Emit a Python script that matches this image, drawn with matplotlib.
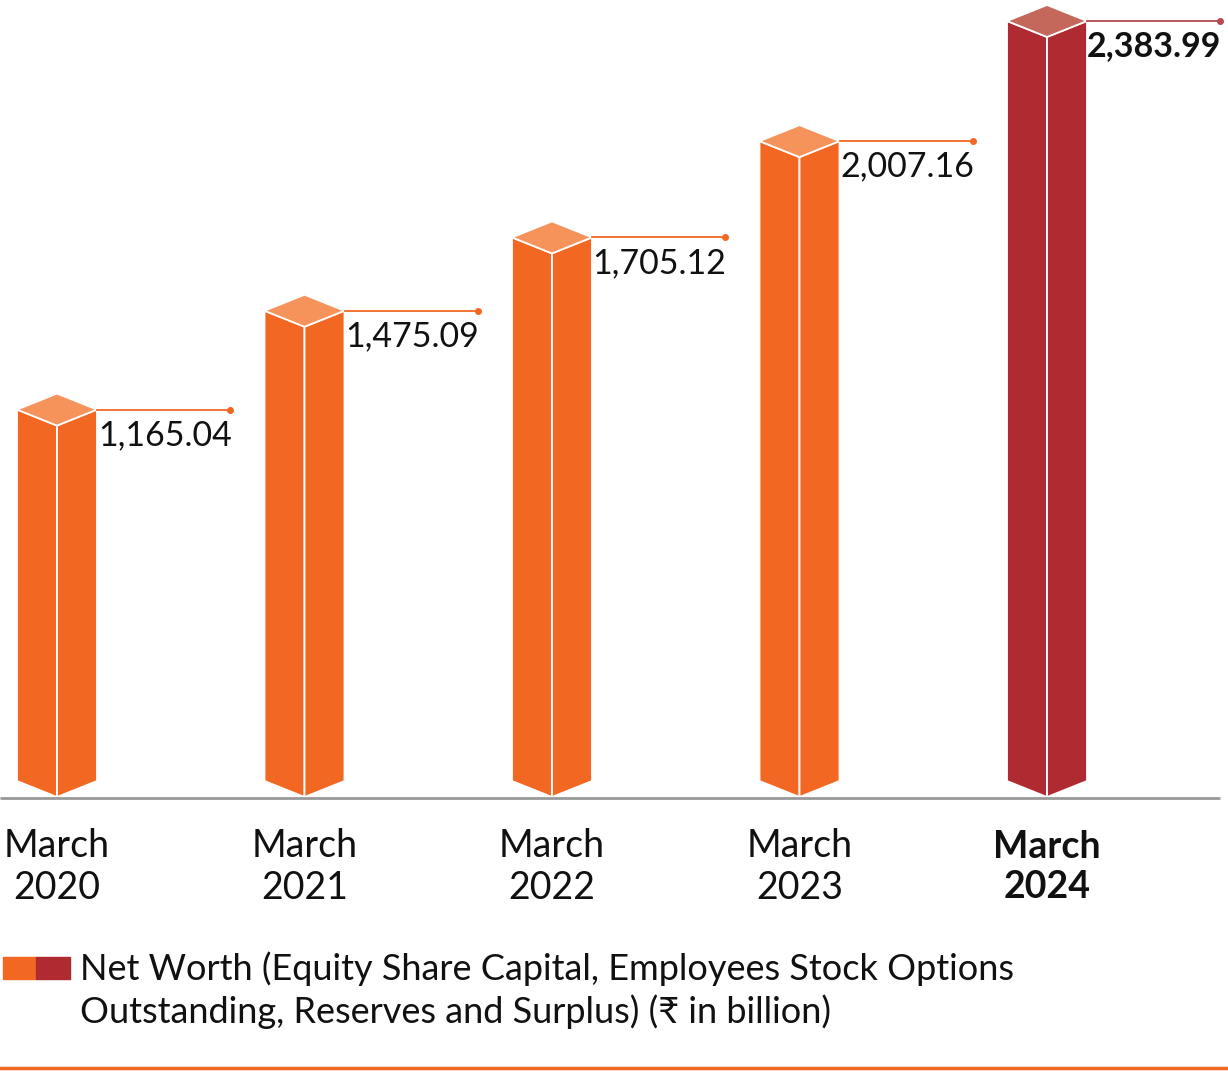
import matplotlib.pyplot as plt
from matplotlib.patches import Polygon

plt.rcParams['font.family'] = ['Lato', 'DejaVu Sans']

years = ["March\n2020", "March\n2021", "March\n2022", "March\n2023", "March\n2024"]
net_worth = [1165.04, 1475.09, 1705.12, 2007.16, 2383.99]
value_labels = ["1,165.04", "1,475.09", "1,705.12", "2,007.16", "2,383.99"]

orange = "#F26722"
orange_top = "#F5935A"
red = "#B02A32"
red_top = "#C4685C"

W, H = 1228, 1071
fig = plt.figure(figsize=(W / 100, H / 100), dpi=100)
ax = fig.add_axes([0, 0, 1, 1])

px_x = 247.5          # pixels per category step
px_y = 0.3188         # pixels per value unit
x0 = 57               # pixel x of first bar centre
base = 781            # pixel y of value 0
ax.set_xlim(-x0 / px_x, (W - x0) / px_x)
ax.set_ylim((base - H) / px_y, base / px_y)
ax.axis("off")

hw = 40 / px_x        # half width of a bar
d = 16 / px_y         # depth offset of the prism

for i, v in enumerate(net_worth):
    last = i == len(net_worth) - 1
    face = red if last else orange
    top = red_top if last else orange_top
    left = [(i - hw, 0), (i, -d), (i, v - d), (i - hw, v)]
    right = [(i, -d), (i + hw, 0), (i + hw, v), (i, v - d)]
    cap = [(i - hw, v), (i, v - d), (i + hw, v), (i, v + d)]
    for pts, c in [(left, face), (right, face), (cap, top)]:
        ax.add_patch(Polygon(pts, closed=True, facecolor=c, edgecolor="white",
                             linewidth=1.3, joinstyle="miter"))
    # leader line and value label
    lc = "#B8474E" if last else orange
    ax.plot([i + hw, i + 0.70], [v, v], color=lc, lw=1.3)
    ax.plot(i + 0.70, v, "o", color=lc, ms=4)
    ax.text(i + 0.705, v - 80, value_labels[i], ha="right", va="center",
            fontsize=24.5, color="#111111",
            fontweight="bold" if last else "normal")
    ax.text(i, -270, years[i], ha="center", va="center", fontsize=27,
            color="#111111", linespacing=1.2,
            fontweight="bold" if last else "normal")

# baseline
ax.plot([-x0 / px_x, (1220 - x0) / px_x], [-17 / px_y, -17 / px_y],
        color="#999999", lw=2, solid_capstyle="butt")

# legend
fig.patches.append(plt.Rectangle((3 / W, 1 - 979 / H), 33 / W, 22 / H,
                                 transform=fig.transFigure, color=orange))
fig.patches.append(plt.Rectangle((36 / W, 1 - 979 / H), 34 / W, 22 / H,
                                 transform=fig.transFigure, color=red))
fig.text(80 / W, 1 - 990 / H,
         "Net Worth (Equity Share Capital, Employees Stock Options\n"
         "Outstanding, Reserves and Surplus) (\u20b9 in billion)",
         ha="left", va="center", fontsize=26, color="#111111", linespacing=1.28)

# bottom rule
fig.add_artist(plt.Line2D([0, 1], [1 - 1068 / H, 1 - 1068 / H],
                          transform=fig.transFigure, color=orange, lw=2.5))

fig.savefig("out.png", dpi=100)
